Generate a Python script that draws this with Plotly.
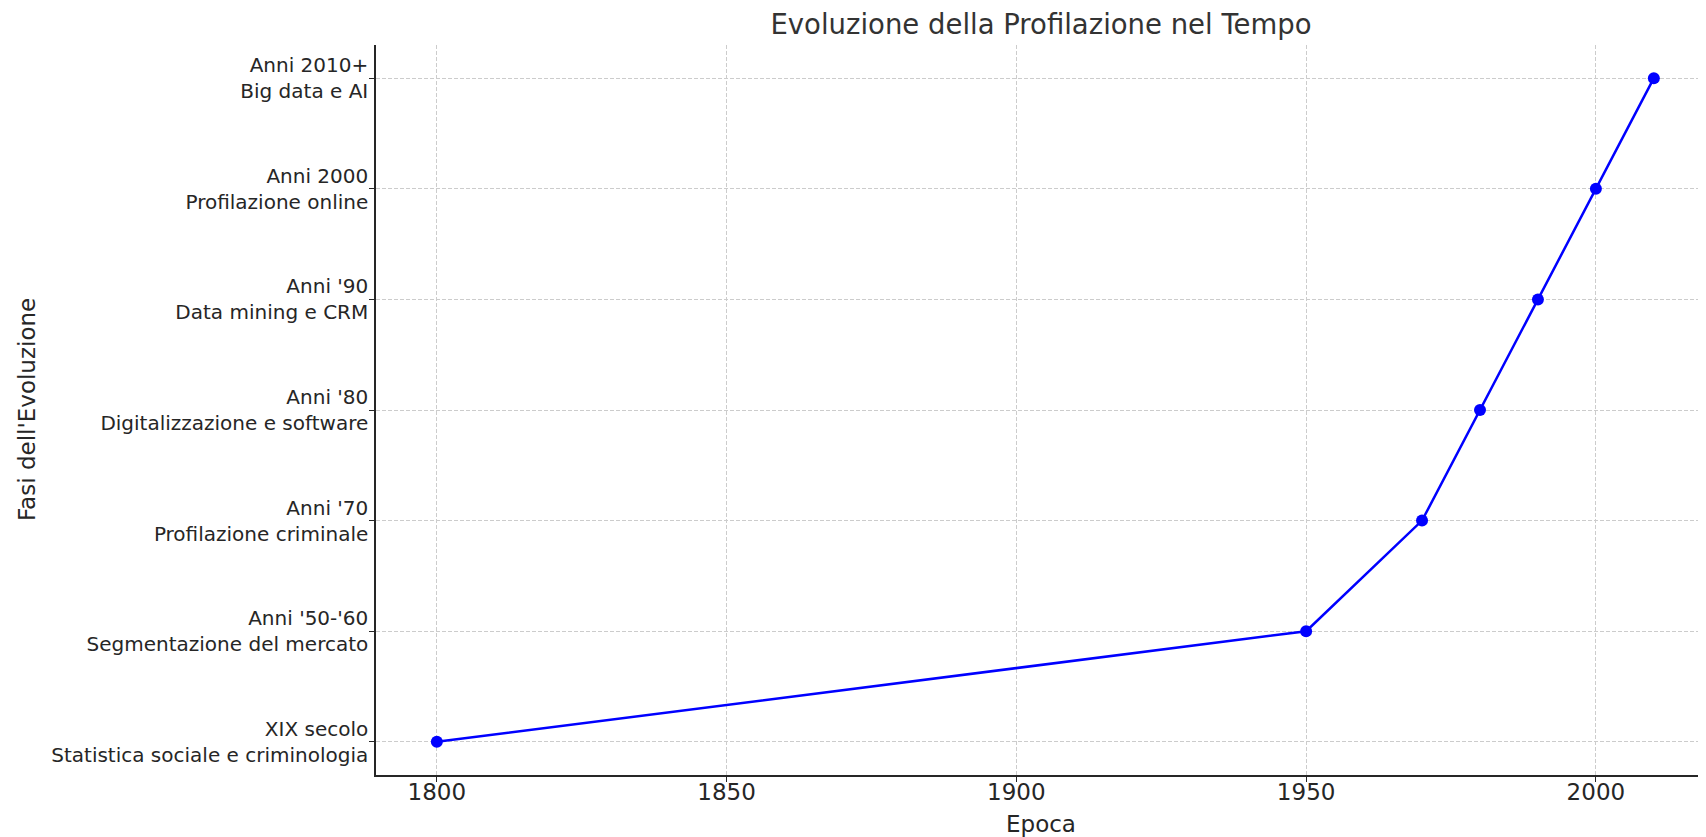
import plotly.graph_objects as go

years = [1800, 1950, 1970, 1980, 1990, 2000, 2010]
phases = [
    "XIX secolo<br>Statistica sociale e criminologia",
    "Anni '50-'60<br>Segmentazione del mercato",
    "Anni '70<br>Profilazione criminale",
    "Anni '80<br>Digitalizzazione e software",
    "Anni '90<br>Data mining e CRM",
    "Anni 2000<br>Profilazione online",
    "Anni 2010+<br>Big data e AI",
]
x_ticks = [1800, 1850, 1900, 1950, 2000]

title_text = "Evoluzione della Profilazione nel Tempo"
x_title = "Epoca"
y_title = "Fasi dell'Evoluzione"

FONT = "DejaVu Sans"
TEXT = "#262626"

# page has an 8px body margin; figure is sized to fit inside the window
W, H = 1698, 829
L, T, B = 368, 37, 62

fig = go.Figure(
    go.Scatter(
        x=years,
        y=phases,
        mode="lines+markers",
        line=dict(color="#0000ff", width=2.5),
        marker=dict(color="#0000ff", size=12),
    )
)

axis_common = dict(
    showgrid=True,
    gridcolor="#cccccc",
    gridwidth=1,
    griddash="4px,2px",
    showline=True,
    linecolor="#262626",
    linewidth=1.5,
    ticks="outside",
    ticklen=5,
    tickwidth=1.2,
    tickcolor="#262626",
    zeroline=False,
)

fig.update_layout(
    width=W,
    height=H,
    margin=dict(l=L, r=0, t=T, b=B, autoexpand=False),
    paper_bgcolor="white",
    plot_bgcolor="white",
    showlegend=False,
    font=dict(family=FONT, color=TEXT),
    title=dict(
        text=title_text,
        x=(L + W) / 2 / W,
        xanchor="center",
        y=1 - 16 / H,
        yanchor="middle",
        yref="container",
        font=dict(size=27.5, color="#333333", family=FONT),
    ),
    xaxis=dict(
        axis_common,
        range=[1789.5, 2019],
        tickvals=x_ticks,
        tickfont=dict(size=23, color=TEXT),
        ticklabelstandoff=-9,
    ),
    yaxis=dict(
        axis_common,
        type="category",
        categoryorder="array",
        categoryarray=phases,
        range=[-0.3, 6.3],
        tickfont=dict(size=20, color=TEXT),
        ticklabelstandoff=-3,
    ),
    annotations=[
        dict(
            text=x_title,
            xref="paper", yref="paper",
            x=0.5, y=0,
            xanchor="center", yanchor="middle",
            yshift=-49,
            showarrow=False,
            font=dict(size=23, color=TEXT),
        ),
        dict(
            text=y_title,
            xref="paper", yref="paper",
            x=0, y=0.5,
            xanchor="center", yanchor="middle",
            xshift=-(L + 8 - 27),
            textangle=-90,
            showarrow=False,
            font=dict(size=23, color=TEXT),
        ),
    ],
)

fig.write_html("out.html")
